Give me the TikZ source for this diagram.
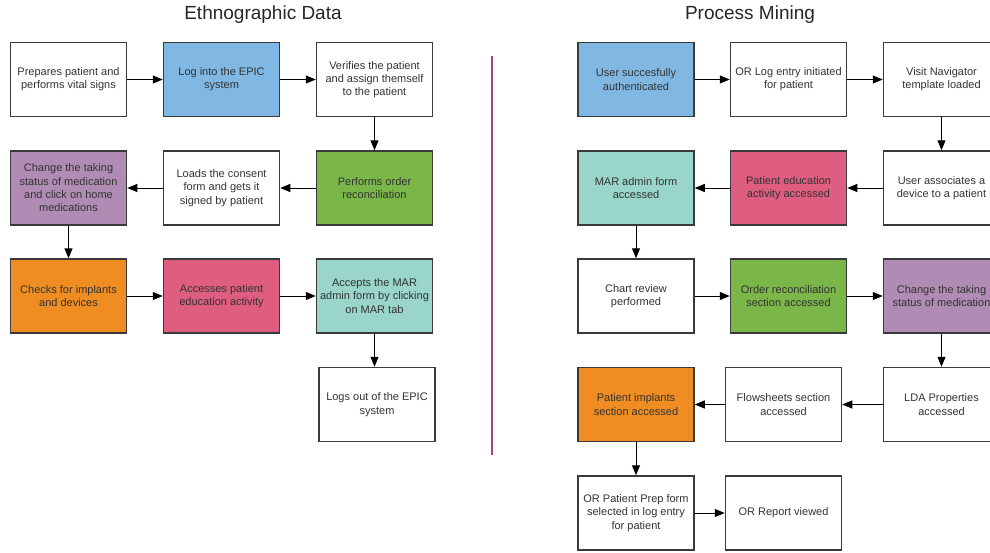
\documentclass[tikz,border=0pt]{standalone}
\usepackage{fontspec}
\setmainfont{Liberation Sans}
\usetikzlibrary{arrows.meta}

\definecolor{boxline}{HTML}{3A3A3A}
\definecolor{boxtext}{HTML}{333333}
\definecolor{fillblue}{HTML}{80B8E3}
\definecolor{fillgreen}{HTML}{7AB648}
\definecolor{fillpurple}{HTML}{B08CB4}
\definecolor{fillorange}{HTML}{EF8D22}
\definecolor{fillpink}{HTML}{DE5D80}
\definecolor{fillteal}{HTML}{99D5C9}
\definecolor{divider}{HTML}{A8457E}

\tikzset{
  stepbox/.style={draw=boxline, line width=1.5pt, fill=white,
    minimum width=116pt, minimum height=74pt, inner sep=2pt,
    align=center, text=boxtext,
    font=\fontsize{11}{13.3}\selectfont},
  flow/.style={-{Triangle[length=10pt,width=8pt]}, line width=1pt, black},
  heading/.style={font=\fontsize{19}{22}\selectfont, text=black!85},
}

\begin{document}
\begin{tikzpicture}[x=1pt, y=-1pt]
\useasboundingbox (0,0) rectangle (990,552);

% headings
\node[heading] (tleft)  at (263,15) {Ethnographic Data};
\node[heading] (tright) at (750,15) {Process Mining};

% divider between the two flows
\draw[divider, line width=2pt] (491.5,56) -- (491.5,455);

% ---- ethnographic flow ----
\node[stepbox] (e1) at (68.5,79.5) {Prepares patient and\\performs vital signs};
\node[stepbox, fill=fillblue] (e2) at (221.5,79.5) {Log into the EPIC\\system};
\node[stepbox] (e3) at (374.5,79.5) {Verifies the patient\\and assign themself\\to the patient};
\node[stepbox, fill=fillgreen] (e4) at (374.5,188) {Performs order\\reconciliation};
\node[stepbox] (e5) at (221.5,188) {Loads the consent\\form and gets it\\signed by patient};
\node[stepbox, fill=fillpurple] (e6) at (68.5,188) {Change the taking\\status of medication\\and click on home\\medications};
\node[stepbox, fill=fillorange] (e7) at (68.5,296) {Checks for implants\\and devices};
\node[stepbox, fill=fillpink] (e8) at (221.5,296) {Accesses patient\\education activity};
\node[stepbox, fill=fillteal] (e9) at (374.5,296) {Accepts the MAR\\admin form by clicking\\on MAR tab};
\node[stepbox] (e10) at (377,404.5) {Logs out of the EPIC\\system};

\draw[flow] (e1) -- (e2);
\draw[flow] (e2) -- (e3);
\draw[flow] (e3) -- (e4);
\draw[flow] (e4) -- (e5);
\draw[flow] (e5) -- (e6);
\draw[flow] (e6) -- (e7);
\draw[flow] (e7) -- (e8);
\draw[flow] (e8) -- (e9);
\draw[flow] (e9.south) -- (e9.south |- e10.north);

% ---- process mining flow ----
\node[stepbox, fill=fillblue] (p1) at (636,79.5) {User succesfully\\authenticated};
\node[stepbox] (p2) at (788.5,79.5) {OR Log entry initiated\\for patient};
\node[stepbox] (p3) at (941.5,79.5) {Visit Navigator\\template loaded};
\node[stepbox] (p4) at (941.5,188) {User associates a\\device to a patient};
\node[stepbox, fill=fillpink] (p5) at (788.5,188) {Patient education\\activity accessed};
\node[stepbox, fill=fillteal] (p6) at (636,188) {MAR admin form\\accessed};
\node[stepbox] (p7) at (636,296) {Chart review\\performed};
\node[stepbox, fill=fillgreen] (p8) at (788.5,296) {Order reconciliation\\section accessed};
\node[stepbox, fill=fillpurple] (p9) at (941.5,296) {Change the taking\\status of medication};
\node[stepbox] (p10) at (941.5,404.5) {LDA Properties\\accessed};
\node[stepbox] (p11) at (783.5,404.5) {Flowsheets section\\accessed};
\node[stepbox, fill=fillorange] (p12) at (636,404.5) {Patient implants\\section accessed};
\node[stepbox] (p13) at (636,513) {OR Patient Prep form\\selected in log entry\\for patient};
\node[stepbox] (p14) at (783.5,513) {OR Report viewed};

\draw[flow] (p1) -- (p2);
\draw[flow] (p2) -- (p3);
\draw[flow] (p3) -- (p4);
\draw[flow] (p4) -- (p5);
\draw[flow] (p5) -- (p6);
\draw[flow] (p6) -- (p7);
\draw[flow] (p7) -- (p8);
\draw[flow] (p8) -- (p9);
\draw[flow] (p9) -- (p10);
\draw[flow] (p10) -- (p11);
\draw[flow] (p11) -- (p12);
\draw[flow] (p12) -- (p13);
\draw[flow] (p13) -- (p14);
\end{tikzpicture}
\end{document}
